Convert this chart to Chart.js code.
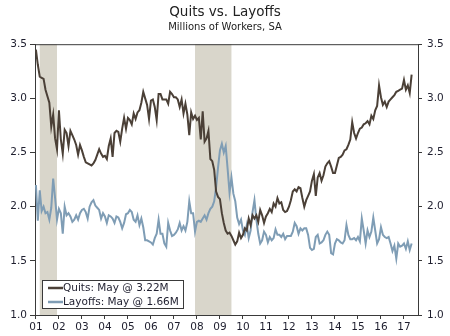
<!DOCTYPE html>
<html>
<head>
<meta charset="utf-8">
<script src="https://cdn.jsdelivr.net/npm/chart.js@4.4.0/dist/chart.umd.min.js"></script>
<style>
  html, body { margin: 0; padding: 0; background: #fff; }
  #wrap { width: 450px; height: 336px; }
</style>
</head>
<body>
<div id="wrap"><canvas id="chart"></canvas></div>
<script>
// monthly, Jan 2001 .. May 2017 (millions, SA)
const startYear = 2001;

const quits = [
  3.45, 3.31, 3.20, 3.19, 3.18, 3.08, 3.02, 2.96, 2.74, 2.85, 2.63, 2.53,
  2.89, 2.62, 2.49, 2.71, 2.68, 2.56, 2.70, 2.66, 2.62, 2.57, 2.48, 2.57,
  2.52, 2.46, 2.41, 2.40, 2.39, 2.38, 2.40, 2.43, 2.48, 2.53, 2.49, 2.46,
  2.47, 2.44, 2.56, 2.63, 2.46, 2.68, 2.70, 2.69, 2.60, 2.72, 2.82, 2.72,
  2.82, 2.80, 2.76, 2.86, 2.81, 2.87, 2.89, 2.96, 3.06, 3.00, 2.94, 2.81,
  2.98, 2.99, 2.92, 2.80, 3.04, 3.04, 2.99, 2.99, 2.99, 2.95, 3.06, 3.04,
  3.01, 3.01, 2.99, 2.92, 2.99, 2.86, 2.95, 2.85, 2.66, 2.87, 2.81, 2.84,
  2.80, 2.82, 2.62, 2.88, 2.60, 2.63, 2.70, 2.44, 2.42, 2.34, 2.14, 2.09,
  2.07, 1.94, 1.85, 1.78, 1.75, 1.76, 1.73, 1.69, 1.65, 1.68, 1.76, 1.71,
  1.74, 1.80, 1.78, 1.89, 1.83, 1.92, 1.89, 1.92, 1.86, 1.97, 1.92, 1.85,
  1.91, 1.94, 1.98, 1.95, 2.03, 2.00, 2.08, 2.03, 2.04, 1.97, 1.95, 1.96,
  2.00, 2.06, 2.14, 2.16, 2.14, 2.18, 2.17, 2.08, 2.00, 2.06, 2.10, 2.14,
  2.24, 2.30, 2.10, 2.27, 2.31, 2.24, 2.29, 2.37, 2.40, 2.42, 2.37, 2.31,
  2.31, 2.38, 2.45, 2.46, 2.48, 2.52, 2.53, 2.57, 2.62, 2.78, 2.68, 2.63,
  2.68, 2.72, 2.73, 2.76, 2.77, 2.79, 2.76, 2.84, 2.81, 2.89, 2.93, 3.12,
  3.01, 2.94, 2.97, 2.92, 2.97, 2.99, 3.01, 3.03, 3.06, 3.07, 3.08, 3.09,
  3.17, 3.08, 3.12, 3.05, 3.22
];

const layoffs = [
  2.20, 1.87, 2.15, 1.96, 2.00, 1.94, 1.95, 1.88, 1.99, 2.26, 2.08, 1.88,
  1.98, 1.94, 1.75, 2.00, 1.92, 1.94, 1.91, 1.86, 1.88, 1.92, 1.88, 1.94,
  1.97, 1.98, 1.95, 1.89, 2.00, 2.04, 2.06, 2.01, 1.99, 1.97, 1.89, 1.94,
  1.91, 1.85, 1.92, 1.91, 1.89, 1.85, 1.91, 1.90, 1.86, 1.80, 1.85, 1.93,
  1.94, 1.97, 1.95, 1.88, 1.86, 1.92, 1.83, 1.89, 1.81, 1.69, 1.69, 1.68,
  1.67, 1.65, 1.71, 1.75, 1.88, 1.75, 1.75, 1.66, 1.63, 1.85, 1.78, 1.73,
  1.74, 1.76, 1.79, 1.85, 1.78, 1.82, 1.78, 1.86, 2.05, 1.94, 1.94, 1.77,
  1.86, 1.87, 1.86, 1.89, 1.92, 1.88, 1.94, 1.98, 2.00, 2.05, 2.18, 2.36,
  2.52, 2.58, 2.50, 2.56, 2.35, 2.13, 2.27, 2.12, 2.05, 1.90, 1.84, 1.88,
  1.78, 1.74, 1.83, 1.71, 1.78, 1.95, 2.06, 1.88, 1.75, 1.66, 1.69, 1.77,
  1.74, 1.67, 1.72, 1.69, 1.71, 1.79, 1.74, 1.74, 1.72, 1.75, 1.70, 1.73,
  1.73, 1.73, 1.77, 1.85, 1.82, 1.75, 1.80, 1.78, 1.80, 1.80, 1.74, 1.62,
  1.60, 1.61, 1.72, 1.74, 1.66, 1.67, 1.69, 1.74, 1.77, 1.74, 1.57, 1.56,
  1.66, 1.70, 1.69, 1.67, 1.66, 1.69, 1.83, 1.74, 1.70, 1.70, 1.71, 1.69,
  1.72, 1.68, 1.89, 1.78, 1.66, 1.78, 1.72, 1.77, 1.90, 1.78, 1.66, 1.70,
  1.81, 1.74, 1.72, 1.71, 1.72, 1.66, 1.59, 1.64, 1.52, 1.66, 1.63, 1.64,
  1.66, 1.61, 1.68, 1.60, 1.66
];

const yearTicks = [2001, 2002, 2003, 2004, 2005, 2006, 2007, 2008, 2009,
  2010, 2011, 2012, 2013, 2014, 2015, 2016, 2017];
const yearLabels = ["01", "02", "03", "04", "05", "06", "07", "08", "09",
  "10", "11", "12", "13", "14", "15", "16", "17"];

// recession periods (decimal years): Mar 2001 - Nov 2001, Dec 2007 - Jun 2009
const recessionStart = [2001 + 2 / 12, 2007 + 11 / 12];
const recessionEnd = [2001 + 11 / 12, 2009 + 6 / 12];

const seriesLabels = ["Quits: May @ 3.22M", "Layoffs: May @ 1.66M"];

const QUITS_COLOR = "#4b4037";
const LAYOFF_COLOR = "#7f9db5";
const SHADE_COLOR = "#d9d6cb";
const AXIS_COLOR = "#3a3a3a";
const TEXT_COLOR = "#1e1e2e";
const FONT = "'DejaVu Sans', Verdana, sans-serif";

function toPoints(arr) {
  return arr.map((v, i) => ({ x: startYear + i / 12, y: v }));
}

const recessionPlugin = {
  id: "recessionShade",
  beforeDatasetsDraw(chart) {
    const { ctx, chartArea, scales } = chart;
    ctx.save();
    ctx.fillStyle = SHADE_COLOR;
    for (let i = 0; i < recessionStart.length; i++) {
      const x0 = scales.x.getPixelForValue(recessionStart[i]);
      const x1 = scales.x.getPixelForValue(recessionEnd[i]);
      ctx.fillRect(x0, chartArea.top, x1 - x0, chartArea.bottom - chartArea.top);
    }
    ctx.restore();
  }
};

// top border of the frame + boxed legend in the lower left
const framePlugin = {
  id: "frameAndLegend",
  afterDraw(chart) {
    const { ctx, chartArea } = chart;
    ctx.save();
    ctx.strokeStyle = AXIS_COLOR;
    ctx.lineWidth = 1;
    ctx.beginPath();
    ctx.moveTo(chartArea.left, chartArea.top + 0.5);
    ctx.lineTo(chartArea.right, chartArea.top + 0.5);
    ctx.stroke();

    const bx = chartArea.left + 7, bw = 141, bh = 28;
    const by = chartArea.bottom - 7 - bh;
    ctx.fillStyle = "#fff";
    ctx.fillRect(bx, by, bw, bh);
    ctx.strokeRect(bx + 0.5, by + 0.5, bw, bh);

    ctx.font = "10.5px " + FONT;
    ctx.textBaseline = "middle";
    chart.data.datasets.forEach((ds, i) => {
      const yy = by + 8 + i * 14;
      ctx.strokeStyle = ds.borderColor;
      ctx.lineWidth = 2.5;
      ctx.beginPath();
      ctx.moveTo(bx + 6, yy);
      ctx.lineTo(bx + 21, yy);
      ctx.stroke();
      ctx.fillStyle = TEXT_COLOR;
      ctx.fillText(ds.label, bx + 21, yy);
    });
    ctx.restore();
  }
};

const yAxisBase = {
  type: "linear",
  min: 1,
  max: 3.5,
  ticks: {
    stepSize: 0.5,
    color: TEXT_COLOR,
    font: { family: FONT, size: 10.5 },
    callback: (v) => Number(v).toFixed(1),
  },
  grid: { drawOnChartArea: false, drawTicks: true, color: AXIS_COLOR },
  border: { display: true, color: AXIS_COLOR, width: 1 },
};

new Chart(document.getElementById("chart"), {
  type: "line",
  data: {
    datasets: [
      {
        label: seriesLabels[0],
        data: toPoints(quits),
        borderColor: QUITS_COLOR,
        borderWidth: 2,
        pointRadius: 0,
        tension: 0,
      },
      {
        label: seriesLabels[1],
        data: toPoints(layoffs),
        borderColor: LAYOFF_COLOR,
        borderWidth: 2,
        pointRadius: 0,
        tension: 0,
      },
    ],
  },
  options: {
    responsive: true,
    maintainAspectRatio: false,
    animation: false,
    layout: { padding: { left: 0, right: 0, top: 0, bottom: 0 } },
    scales: {
      x: {
        type: "linear",
        min: 2000.96,
        max: 2017.61,
        afterBuildTicks: (scale) => {
          scale.ticks = yearTicks.map((v) => ({ value: v }));
        },
        afterFit: (scale) => { scale.height = 21; },
        ticks: {
          color: TEXT_COLOR,
          font: { family: FONT, size: 10.5 },
          padding: 2,
          maxRotation: 0,
          autoSkip: false,
          callback: (v) => yearLabels[yearTicks.indexOf(v)],
        },
        grid: { drawOnChartArea: false, drawTicks: true, tickLength: 4, color: AXIS_COLOR },
        border: { display: true, color: AXIS_COLOR, width: 1 },
      },
      y: {
        ...yAxisBase,
        position: "left",
        afterFit: (scale) => { scale.width = 35; },
        ticks: { ...yAxisBase.ticks, padding: 3 },
        grid: { ...yAxisBase.grid, tickLength: 5 },
      },
      y2: {
        ...yAxisBase,
        position: "right",
        afterFit: (scale) => { scale.width = 32; },
        ticks: { ...yAxisBase.ticks, padding: 5 },
        grid: { ...yAxisBase.grid, tickLength: 4 },
      },
    },
    plugins: {
      legend: { display: false },
      tooltip: { enabled: false },
      title: {
        display: true,
        text: "Quits vs. Layoffs",
        color: "#222",
        font: { family: FONT, size: 13.5, weight: "normal" },
        padding: { top: 4, bottom: 1 },
      },
      subtitle: {
        display: true,
        text: "Millions of Workers, SA",
        color: "#222",
        font: { family: FONT, size: 10, weight: "normal" },
        padding: { top: 0, bottom: 11 },
      },
    },
  },
  plugins: [recessionPlugin, framePlugin],
});
</script>
</body>
</html>
